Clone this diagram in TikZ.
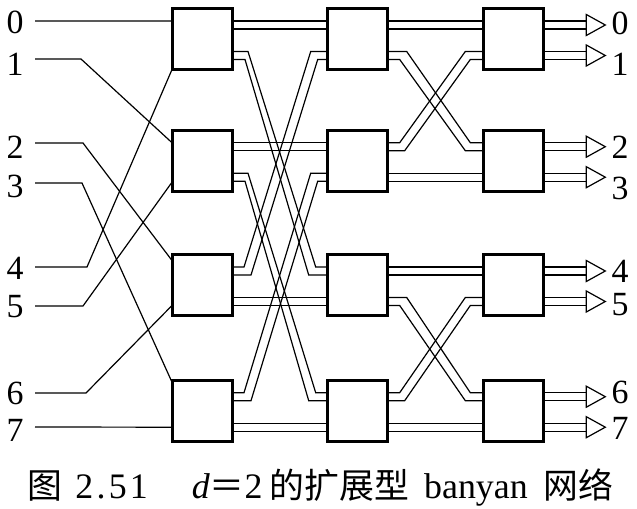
\documentclass[tikz,border=0pt]{standalone}
\usepackage{fontspec}
\setmainfont{Liberation Serif}
\newfontfamily\cjk{Noto Sans CJK SC}
\usetikzlibrary{calc}
\begin{document}
\begin{tikzpicture}[x=1bp,y=-1bp,
  sw/.style={draw, line width=3bp, minimum width=60bp, minimum height=61bp, inner sep=0pt, outer sep=0pt},
  wire/.style={line width=1.2bp, line join=miter},
  tip/.style={draw, line width=1.2bp, fill=white, line join=miter},
  lab/.style={font=\fontsize{34}{34}\selectfont, inner sep=0pt}]
\useasboundingbox (0,0) rectangle (637,509);
% switching elements
\foreach \c/\x in {1/202,2/357.7,3/513.3}
  \foreach \r/\y in {1/39,2/160.7,3/285,4/410.7} {
    \node[sw] (b\c\r) at (\x,\y) {};
    \coordinate (b\c\r-ia)  at ($(b\c\r.north west)+(0,12.5)$);
    \coordinate (b\c\r-iab) at ($(b\c\r.north west)+(0,20.5)$);
    \coordinate (b\c\r-ib)  at ($(b\c\r.north west)+(0,43)$);
    \coordinate (b\c\r-ibb) at ($(b\c\r.north west)+(0,51)$);
    \coordinate (b\c\r-oa)  at ($(b\c\r.north east)+(0,12.5)$);
    \coordinate (b\c\r-oab) at ($(b\c\r.north east)+(0,20.5)$);
    \coordinate (b\c\r-ob)  at ($(b\c\r.north east)+(0,43)$);
    \coordinate (b\c\r-obb) at ($(b\c\r.north east)+(0,51)$);
  }
% input labels and wires
\foreach \n/\y in {0/22,1/64,2/147,3/186,4/268,5/307,6/393,7/430}
  \node[lab] (in\n) at (15,\y) {\n};
\foreach \n/\y in {0/21,1/59,2/143,3/183,4/267,5/306,6/393,7/427}
  \coordinate (s\n) at (35,\y);
\coordinate (e2) at ($(b13.north west)+(0,6)$);
\coordinate (e3) at ($(b14.north west)+(0,2)$);
\coordinate (e5) at ($(b12.north west)+(0,52)$);
\coordinate (e6) at ($(b13.north west)+(0,51)$);
\coordinate (e7) at ($(b14.north west)+(0,47)$);
\draw[wire] (s0) -- (b11-ia);
\draw[wire] (s1) -- ++(46,0) -- (b12-ia);
\draw[wire] (s2) -- ++(48,0) -- (e2);
\draw[wire] (s3) -- ++(47,0) -- (e3);
\draw[wire] (s4) -- ++(52,0) -- (b11.south west);
\draw[wire] (s5) -- ++(48,0) -- (e5);
\draw[wire] (s6) -- ++(51,0) -- (e6);
\draw[wire] (s7) -- (e7);
% straight links (double lines)
\foreach \p/\q in {11-oa/21-ia, 11-oab/21-iab, 12-oa/22-ia, 12-oab/22-iab,
                   13-ob/23-ib, 13-obb/23-ibb, 14-ob/24-ib, 14-obb/24-ibb,
                   21-oa/31-ia, 21-oab/31-iab, 22-ob/32-ib, 22-obb/32-ibb,
                   23-oa/33-ia, 23-oab/33-iab, 24-ob/34-ib, 24-obb/34-ibb}
  \draw[wire] (b\p) -- (b\q);
% stage 1 -> 2, crossing links
\foreach \a/\b in {11/23, 12/24} {
  \draw[wire] (b\a-ob) -- ++(16,0) -- ([xshift=-12bp]b\b-ia) -- (b\b-ia);
  \draw[wire] (b\a-obb) -- ++(13,0) -- ([xshift=-19bp]b\b-iab) -- (b\b-iab);
}
\foreach \a/\b in {13/21, 14/22} {
  \draw[wire] (b\a-oa) -- ++(12,0) -- ([xshift=-17bp]b\b-ib) -- (b\b-ib);
  \draw[wire] (b\a-oab) -- ++(19,0) -- ([xshift=-10bp]b\b-ibb) -- (b\b-ibb);
}
% stage 2 -> 3, crossing links
\foreach \a/\b in {21/32, 23/34} {
  \draw[wire] (b\a-ob) -- ++(19,0) -- ([xshift=-13bp]b\b-ia) -- (b\b-ia);
  \draw[wire] (b\a-obb) -- ++(12,0) -- ([xshift=-18bp]b\b-iab) -- (b\b-iab);
}
\foreach \a/\b in {22/31, 24/33} {
  \draw[wire] (b\a-oa) -- ++(12,0) -- ([xshift=-18bp]b\b-ib) -- (b\b-ib);
  \draw[wire] (b\a-oab) -- ++(17,0) -- ([xshift=-13bp]b\b-ibb) -- (b\b-ibb);
}
% outputs
\foreach \r in {1,2,3,4}
  \foreach \p in {a,b} {
    \coordinate (t\r\p) at ($(b3\r-o\p)+(43,0)$);
    \coordinate (t\r\p b) at ($(b3\r-o\p b)+(43,0)$);
    \draw[wire] (b3\r-o\p) -- (t\r\p);
    \draw[wire] (b3\r-o\p b) -- (t\r\p b);
    \draw[tip] ($(t\r\p)+(0,-6.5)$) -- ($(t\r\p)+(19,4)$) -- ($(t\r\p b)+(0,6.5)$) -- cycle;
  }
\foreach \n/\y in {0/23,1/64,2/147,3/188,4/271,5/305,6/392,7/428}
  \node[lab] (out\n) at (620,\y) {\n};
% caption
\node[font=\fontsize{36}{36}\selectfont, inner sep=0pt, anchor=base] (cap) at (320.5,498)
  {{\cjk\fontsize{35}{35}\selectfont 图}\hspace{13bp}{\addfontfeature{LetterSpace=9}2.51}\hspace{44bp}\textit{d}{\cjk\fontsize{35}{35}\selectfont ＝}2\hspace{7bp}{\cjk\fontsize{35}{35}\selectfont 的扩展型}\hspace{15bp}banyan\hspace{16bp}{\cjk\fontsize{35}{35}\selectfont 网络}};
\end{tikzpicture}
\end{document}
